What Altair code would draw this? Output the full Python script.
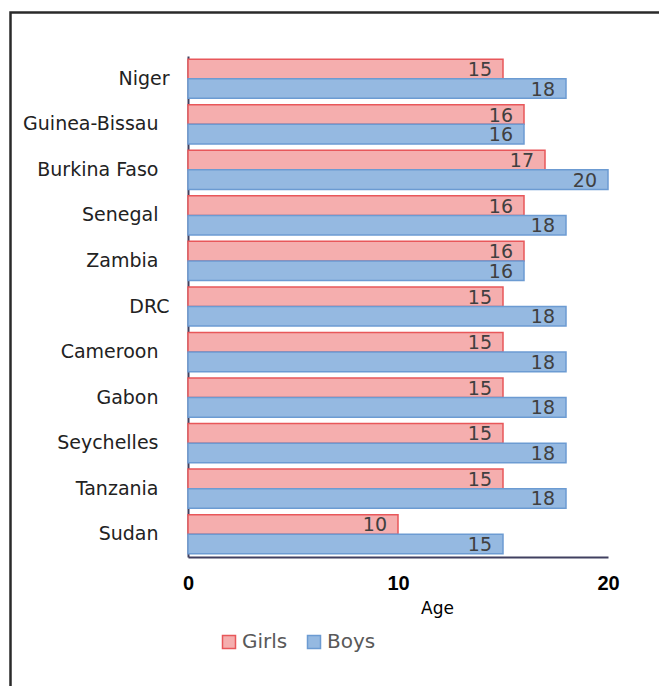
import altair as alt
import pandas as pd

countries = ["Niger", "Guinea-Bissau", "Burkina Faso", "Senegal", "Zambia", "DRC",
             "Cameroon", "Gabon", "Seychelles", "Tanzania", "Sudan"]
girls = [15, 16, 17, 16, 16, 15, 15, 15, 15, 15, 10]
boys = [18, 16, 20, 18, 16, 18, 18, 18, 18, 18, 15]
groups = ["Girls", "Boys"]
x_ticks = [0, 10, 20]

rows = []
for c, g, b in zip(countries, girls, boys):
    rows.append({"country": c, "sex": "Girls", "age": g})
    rows.append({"country": c, "sex": "Boys", "age": b})
df = pd.DataFrame(rows)

FONT = "DejaVu Sans"

y_enc = alt.Y("country:N", sort=countries,
              scale=alt.Scale(paddingInner=0.14, paddingOuter=0.07),
              axis=alt.Axis(title=None, ticks=False, domainColor="#404060", domainWidth=2,
                            labelFontSize=19, labelColor="#222222",
                            labelPadding=alt.expr("datum.value == 'Niger' || datum.value == 'DRC' ? 19 : 30"),
                            labelFont=FONT))
yoff_enc = alt.YOffset("sex:N", sort=groups, scale=alt.Scale(paddingInner=0, paddingOuter=0))
x_enc = alt.X("age:Q", scale=alt.Scale(domain=[0, 20], nice=False),
              axis=alt.Axis(values=x_ticks, title="Age", grid=False, ticks=False,
                            domainColor="#404060", domainWidth=2,
                            labelFontSize=20, labelFontWeight="bold", labelColor="#000000",
                            labelPadding=16, labelFlush=False, labelFont="Liberation Sans",
                            titleFontSize=17, titleFontWeight="normal", titleColor="#000000",
                            titleFont=FONT, titleX=249, titleY=56, titleAlign="center",
                            titleBaseline="alphabetic"))

frame = alt.Chart(pd.DataFrame({"a": [0]})).mark_rect(
    fill=None, stroke="#2a2a2a", strokeWidth=2.5
).encode(x=alt.value(-177.5), x2=alt.value(700), y=alt.value(-43.5), y2=alt.value(800))

bars = alt.Chart(df).mark_bar(strokeWidth=1.5).encode(
    y=y_enc,
    yOffset=yoff_enc,
    x=x_enc,
    fill=alt.Fill("sex:N", sort=groups,
                  scale=alt.Scale(domain=groups, range=["#f5aeae", "#95b9e1"]),
                  legend=alt.Legend(title=None)),
    stroke=alt.Stroke("sex:N", sort=groups,
                      scale=alt.Scale(domain=groups, range=["#e8575a", "#6c9bd2"]),
                      legend=alt.Legend(title=None)),
)

labels = alt.Chart(df).mark_text(
    align="right", baseline="middle", dx=-11, dy=1, fontSize=19, color="#404040", font=FONT
).encode(y=y_enc, yOffset=yoff_enc, x=x_enc, text="age:Q")

chart = alt.layer(frame, bars, labels).properties(
    width=420, height=501,
    autosize=alt.AutoSizeParams(type="none"),
    padding={"left": 180, "top": 48, "right": 51, "bottom": 129},
).configure_view(stroke=None).configure_legend(
    orient="none", legendX=31, legendY=576, direction="horizontal",
    symbolType="square", symbolSize=169, symbolStrokeWidth=1.5,
    labelFontSize=20, labelColor="#595959", labelFont=FONT, labelOffset=3,
    columnPadding=16,
)

chart.save("out.html", embed_options={"renderer": "svg", "actions": False})
